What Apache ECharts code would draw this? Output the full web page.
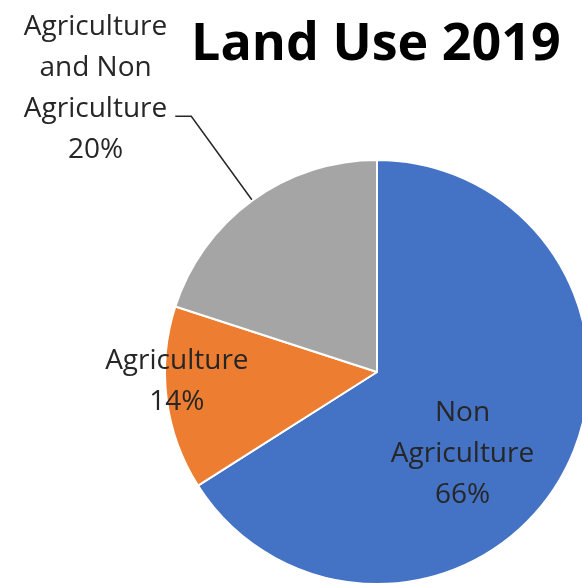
<!DOCTYPE html>
<html>
<head>
<meta charset="utf-8">
<script src="https://cdn.jsdelivr.net/npm/echarts@6/dist/echarts.min.js"></script>
<style>
  html, body { margin: 0; padding: 0; background: #fff; }
  #main { width: 582px; height: 584px; }
</style>
</head>
<body>
<div id="main"></div>
<script>
// chart data
const titleText = 'Land Use 2019'
const categories = ['Non Agriculture', 'Agriculture', 'Agriculture and Non Agriculture']
const labelLines = [['Non', 'Agriculture'], ['Agriculture'], ['Agriculture', 'and Non', 'Agriculture']]
const shares = [66, 14, 20]
const colors = ['#4472C4', '#ED7D31', '#A5A5A5']

const fontFamily = '"Open Sans", "Noto Sans", sans-serif'
// nudges for the inside labels, like Excel places them
const labelShift = [[-10, 30], [-92, -4], null]

const chart = echarts.init(document.getElementById('main'))

function makeLabel(i) {
  const rows = labelLines[i].concat([shares[i] + '%'])
  return rows.map(r => '{c|' + r + '}').join('\n')
}

const seriesData = categories.map((name, i) => {
  const item = {
    name: name,
    value: shares[i],
    itemStyle: { color: colors[i] }
  }
  if (i === 2) {
    item.label = {
      position: 'outside',
      padding: [0, 0, 56, 0],
      distanceToLabelLine: 8
    }
    item.labelLine = {
      show: true,
      length: 104,
      length2: 16,
      lineStyle: { color: '#262626', width: 1.5 }
    }
  }
  return item
})

const option = {
  animation: false,
  title: {
    text: titleText,
    left: 186,
    top: 14,
    textStyle: {
      fontFamily: fontFamily,
      fontWeight: 'bold',
      fontSize: 52,
      color: '#000'
    }
  },
  series: [
    {
      type: 'pie',
      center: [377, 372],
      radius: 212,
      startAngle: 90,
      clockwise: true,
      avoidLabelOverlap: false,
      itemStyle: { borderColor: '#fff', borderWidth: 2 },
      label: {
        show: true,
        position: 'inside',
        formatter: params => makeLabel(params.dataIndex),
        rich: {
          c: {
            fontFamily: fontFamily,
            fontSize: 28,
            lineHeight: 41,
            color: '#262626',
            align: 'center'
          }
        }
      },
      labelLine: { show: false },
      labelLayout: params => {
        const s = labelShift[params.dataIndex]
        return s ? { dx: s[0], dy: s[1] } : {}
      },
      data: seriesData
    }
  ]
}

chart.setOption(option)
</script>
</body>
</html>
